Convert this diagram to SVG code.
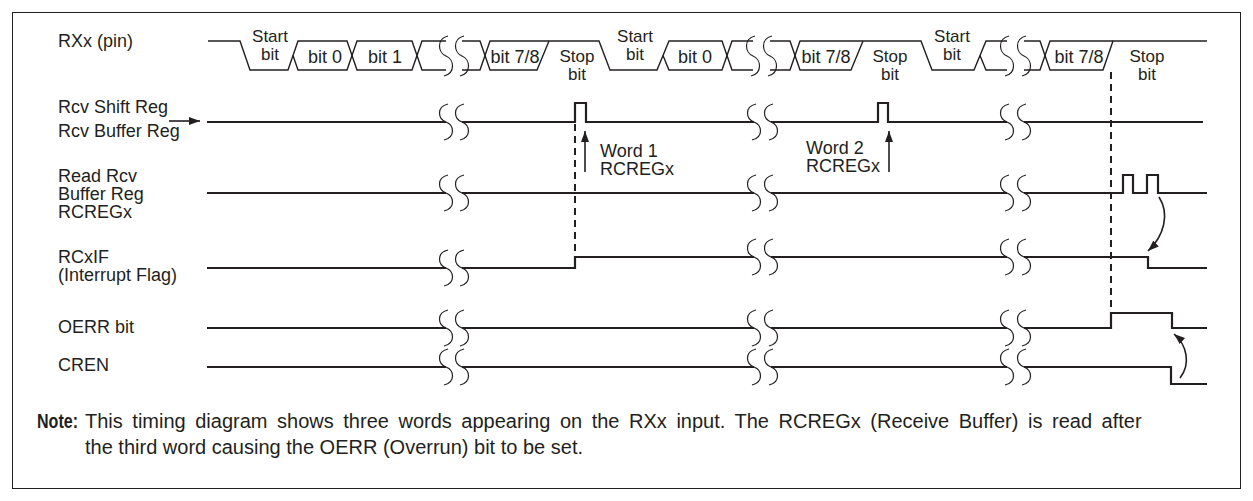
<svg xmlns="http://www.w3.org/2000/svg" width="1253" height="501" viewBox="0 0 1253 501">
<style>
text{font-family:"Liberation Sans",Arial,Helvetica,sans-serif;font-size:18px;fill:#231f20}
.c{text-anchor:middle}
.t{font-size:17px}
.bus{fill:none;stroke:#231f20;stroke-width:1.4;stroke-linejoin:miter}
.sig{fill:none;stroke:#231f20;stroke-width:2.2;stroke-linejoin:miter}
.brk{fill:none;stroke:#231f20;stroke-width:1.2}
.dash{fill:none;stroke:#231f20;stroke-width:2;stroke-dasharray:7 5}
.arr{fill:none;stroke:#231f20;stroke-width:1.6}
.note{font-size:20px}
</style>
<defs>
<marker id="ah" markerUnits="userSpaceOnUse" markerWidth="12" markerHeight="10" refX="11" refY="4" orient="auto">
<path d="M0,0 L11,4 L0,8 z" fill="#231f20"/>
</marker>
<path id="s1" d="M2,-18 C-10,-15 -8,-3 0,0 C8,3 10,15 -2,18"/>
<path id="s2" d="M2,-20 C-10,-17 -8,-3 0,0 C8,3 10,17 -2,20"/>
</defs>
<rect x="12.5" y="12.5" width="1228" height="476" fill="#fff" stroke="#231f20" stroke-width="1"/>

<g id="labels">
<text x="58" y="47">RXx (pin)</text>
<text x="58" y="113">Rcv Shift Reg</text>
<text x="58" y="137">Rcv Buffer Reg</text>
<text x="58" y="182">Read Rcv</text>
<text x="58" y="200">Buffer Reg</text>
<text x="58" y="218">RCREGx</text>
<text x="58" y="263">RCxIF</text>
<text x="58" y="281">(Interrupt Flag)</text>
<text x="58" y="333">OERR bit</text>
<text x="58" y="371">CREN</text>
</g>

<g id="rxx">
<path class="bus" d="M208,41 H240 L250,70 H288 L298,41 H347 L357,70 H412 L422,41 H446"/>
<path class="bus" d="M293,55.5 L298,70 H347 L357,41 H412 L422,70 H446"/>
<path class="bus" d="M462,41 H480 L490,70 H537 L549,41"/>
<path class="bus" d="M462,70 H480 L490,41 H599 L610,70 H657 L669,41 H722 L732,70 H753"/>
<path class="bus" d="M663,55.5 L669,70 H722 L732,41 H753"/>
<path class="bus" d="M770,41 H790 L800,70 H851 L863,41"/>
<path class="bus" d="M770,70 H790 L800,41 H921 L932,70 H974 L986,41 H1007"/>
<path class="bus" d="M980,55.5 L986,70 H1007"/>
<path class="bus" d="M1024,41 H1040 L1050,70 H1103 L1113,41 H1207"/>
<path class="bus" d="M1024,70 H1040 L1050,41 H1113"/>
<text class="c t" x="270" y="42">Start</text>
<text class="c t" x="270" y="60">bit</text>
<text class="c" x="325" y="63">bit 0</text>
<text class="c" x="385" y="63">bit 1</text>
<text class="c" x="515" y="63">bit 7/8</text>
<text class="c t" x="577" y="62">Stop</text>
<text class="c t" x="577" y="80">bit</text>
<text class="c t" x="635" y="42">Start</text>
<text class="c t" x="635" y="60">bit</text>
<text class="c" x="695" y="63">bit 0</text>
<text class="c" x="826" y="63">bit 7/8</text>
<text class="c t" x="890" y="62">Stop</text>
<text class="c t" x="890" y="80">bit</text>
<text class="c t" x="952" y="42">Start</text>
<text class="c t" x="952" y="60">bit</text>
<text class="c" x="1079" y="63">bit 7/8</text>
<text class="c t" x="1147" y="62">Stop</text>
<text class="c t" x="1147" y="80">bit</text>
</g>

<g id="rcv-shift">
<path class="sig" d="M207,122 H446 M462,122 H575 V103 H586 V122 H754 M771,122 H878 V103 H888 V122 H1007 M1024,122 H1203"/>
</g>
<g id="read-rcv">
<path class="sig" d="M207,193 H446 M462,193 H754 M771,193 H1007 M1024,193 H1123 V175 H1133 V193 H1147 V175 H1158 V193 H1207"/>
</g>
<g id="rcxif">
<path class="sig" d="M207,268 H446 M462,268 H575 V257 H754 M771,257 H1007 M1024,257 H1148 V268 H1207"/>
</g>
<g id="oerr">
<path class="sig" d="M207,328 H446 M462,328 H754 M771,328 H1007 M1024,328 H1111 V313 H1172 V328 H1207"/>
</g>
<g id="cren">
<path class="sig" d="M207,367 H446 M462,367 H754 M771,367 H1007 M1024,367 H1171 V384 H1207"/>
</g>

<g id="breaks">
<use href="#s2" class="brk" x="446" y="56"/><use href="#s2" class="brk" x="462" y="56"/>
<use href="#s2" class="brk" x="753" y="56"/><use href="#s2" class="brk" x="770" y="56"/>
<use href="#s2" class="brk" x="1007" y="56"/><use href="#s2" class="brk" x="1024" y="56"/>
<use href="#s1" class="brk" x="446" y="122"/><use href="#s1" class="brk" x="462" y="122"/>
<use href="#s1" class="brk" x="754" y="122"/><use href="#s1" class="brk" x="771" y="122"/>
<use href="#s1" class="brk" x="1007" y="122"/><use href="#s1" class="brk" x="1024" y="122"/>
<use href="#s1" class="brk" x="446" y="193"/><use href="#s1" class="brk" x="462" y="193"/>
<use href="#s1" class="brk" x="754" y="193"/><use href="#s1" class="brk" x="771" y="193"/>
<use href="#s1" class="brk" x="1007" y="193"/><use href="#s1" class="brk" x="1024" y="193"/>
<use href="#s1" class="brk" x="446" y="268"/><use href="#s1" class="brk" x="462" y="268"/>
<use href="#s1" class="brk" x="754" y="257"/><use href="#s1" class="brk" x="771" y="257"/>
<use href="#s1" class="brk" x="1007" y="257"/><use href="#s1" class="brk" x="1024" y="257"/>
<use href="#s1" class="brk" x="446" y="328"/><use href="#s1" class="brk" x="462" y="328"/>
<use href="#s1" class="brk" x="754" y="328"/><use href="#s1" class="brk" x="771" y="328"/>
<use href="#s1" class="brk" x="1007" y="328"/><use href="#s1" class="brk" x="1024" y="328"/>
<use href="#s1" class="brk" x="446" y="367"/><use href="#s1" class="brk" x="462" y="367"/>
<use href="#s1" class="brk" x="754" y="367"/><use href="#s1" class="brk" x="771" y="367"/>
<use href="#s1" class="brk" x="1007" y="367"/><use href="#s1" class="brk" x="1024" y="367"/>
</g>

<g id="connectors">
<line class="dash" x1="575" y1="124" x2="575" y2="257"/>
<line class="dash" x1="1111" y1="72" x2="1111" y2="313"/>
<line class="arr" x1="169" y1="121" x2="200" y2="121" marker-end="url(#ah)"/>
<line class="arr" x1="585" y1="172" x2="585" y2="131" stroke-width="2" marker-end="url(#ah)"/>
<line class="arr" x1="889" y1="172" x2="889" y2="131" stroke-width="2" marker-end="url(#ah)"/>
<path class="arr" d="M1159,197 C1170,214 1164,236 1148,251" marker-end="url(#ah)"/>
<path class="arr" d="M1180,378 C1191,364 1187,345 1174,334" marker-end="url(#ah)"/>
</g>

<g id="word-labels">
<text x="600" y="157">Word 1</text>
<text x="600" y="175">RCREGx</text>
<text x="806" y="154">Word 2</text>
<text x="806" y="172">RCREGx</text>
</g>

<g id="note">
<text class="note" x="37" y="428" font-weight="bold" textLength="41" lengthAdjust="spacingAndGlyphs">Note:</text>
<text class="note" x="85" y="428" word-spacing="4">This timing diagram shows three words appearing on the RXx input. The RCREGx (Receive Buffer) is read after</text>
<text class="note" x="85" y="454">the third word causing the OERR (Overrun) bit to be set.</text>
</g>
</svg>
